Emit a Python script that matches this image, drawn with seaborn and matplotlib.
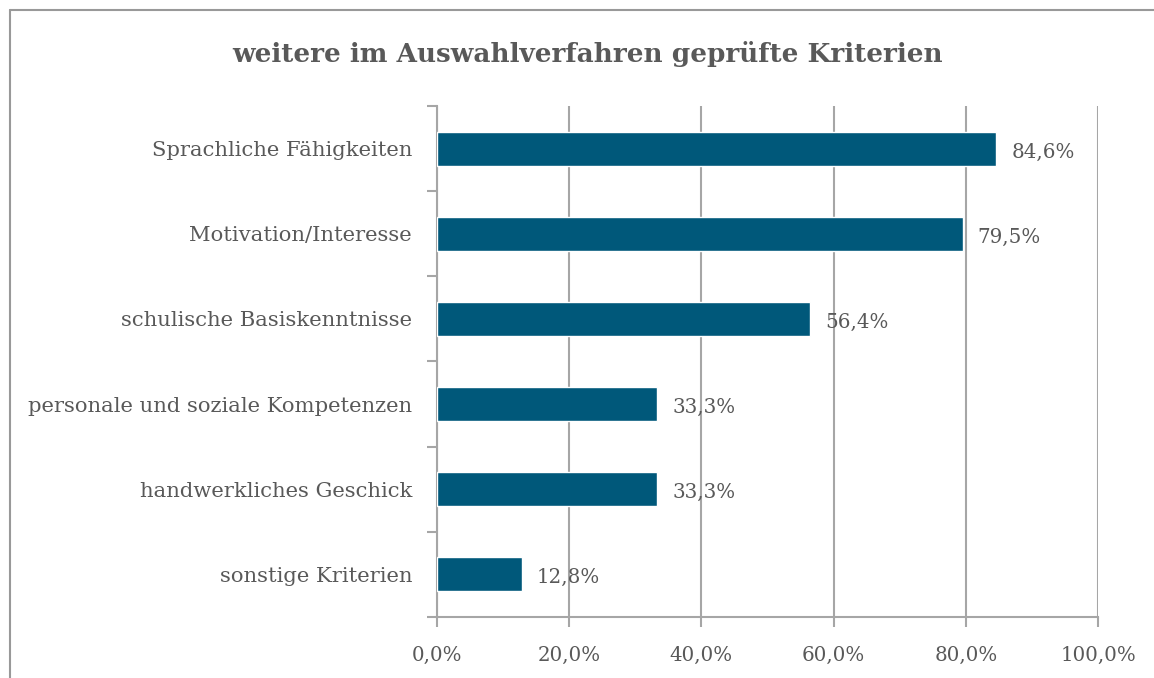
import seaborn as sns
import pandas as pd
import matplotlib.pyplot as plt
from matplotlib.lines import Line2D

# data
criteria = ["Sprachliche Fähigkeiten", "Motivation/Interesse", "schulische Basiskenntnisse",
            "personale und soziale Kompetenzen", "handwerkliches Geschick", "sonstige Kriterien"]
shares = [84.6, 79.5, 56.4, 33.3, 33.3, 12.8]
x_ticks = [0, 20, 40, 60, 80, 100]
title = "weitere im Auswahlverfahren geprüfte Kriterien"

df = pd.DataFrame({"Kriterium": criteria, "Anteil": shares})

sns.set_style("white")
plt.rcParams["font.family"] = ["DejaVu Serif", "Liberation Serif"]
text_color = "#595959"
grid_color = "#a6a6a6"

fig = plt.figure(figsize=(11.54, 6.78), dpi=100)
ax = fig.add_axes([0.3787, 0.09, 0.9515 - 0.3787, 0.8437 - 0.09])

sns.barplot(data=df, x="Anteil", y="Kriterium", orient="h", color="#00587a",
            width=0.4, saturation=1, ax=ax, zorder=3)

ax.set_xlim(0, 100)
ax.set_ylim(len(criteria) - 0.5, -0.5)
ax.set_xticks(x_ticks)
ax.set_xticklabels([f"{v:.1f}%".replace(".", ",") for v in x_ticks])
ax.xaxis.grid(True, color=grid_color, linewidth=1.5, zorder=0)
ax.set_axisbelow(True)
ax.set_xlabel("")
ax.set_ylabel("")

for s in ["top", "right"]:
    ax.spines[s].set_visible(False)
for s in ["left", "bottom"]:
    ax.spines[s].set_color(grid_color)
    ax.spines[s].set_linewidth(1.5)

ax.tick_params(axis="x", length=7, width=1.5, color=grid_color, colors=text_color,
               labelsize=14.3, pad=14, direction="out", bottom=True)
ax.tick_params(axis="y", length=0, colors=text_color, labelsize=15.2, pad=18)
ax.set_yticks([i - 0.5 for i in range(len(criteria) + 1)], minor=True)
ax.tick_params(axis="y", which="minor", length=7, width=1.5, color=grid_color, left=True)

for i, v in enumerate(shares):
    ax.text(v + 2.3, i + 0.04, f"{v:.1f}%".replace(".", ","), va="center", ha="left",
            fontsize=14.3, color=text_color, zorder=4)

fig.text(0.509, 0.921, title, ha="center", va="center", fontsize=18.9,
         fontweight="bold", color=text_color)

# chart frame (top and left edges visible)
fig.add_artist(Line2D([10 / 1154, 1.0], [1 - 10 / 678, 1 - 10 / 678],
                      transform=fig.transFigure, color="#999999", linewidth=1.5))
fig.add_artist(Line2D([10 / 1154, 10 / 1154], [0, 1 - 10 / 678],
                      transform=fig.transFigure, color="#999999", linewidth=1.5))

fig.savefig("out.png", dpi=100, facecolor="white")
